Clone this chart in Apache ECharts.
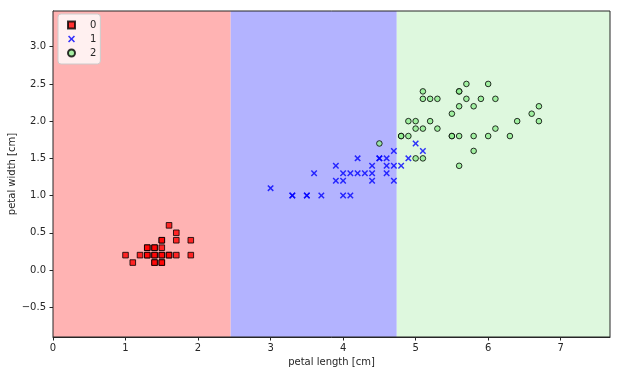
<!DOCTYPE html>
<html><head><meta charset="utf-8">
<script src="https://cdn.jsdelivr.net/npm/echarts@6/dist/echarts.min.js"></script>
<style>html,body{margin:0;padding:0;background:#fff}#c{width:621px;height:375px}</style>
</head><body><div id="c"></div>
<script>
// decision region boundaries (petal length) and their classes
const regionEdges = [0, 2.45, 4.74, 7.68];
const regionColors = ['#ffb3b3', '#b3b3ff', '#def8de'];
const xTicks = [0, 1, 2, 3, 4, 5, 6, 7];
const yTicks = [-0.5, 0, 0.5, 1, 1.5, 2, 2.5, 3];
const classNames = ['0', '1', '2'];

const class0 = [[1.6,0.6],[1.7,0.5],[1.7,0.4],[1.9,0.4],[1.5,0.4],[1.5,0.4],[1.3,0.3],[1.3,0.3],[1.4,0.3],[1.4,0.3],[1.5,0.3],[1.0,0.2],[1.2,0.2],[1.3,0.2],[1.3,0.2],[1.4,0.2],[1.4,0.2],[1.5,0.2],[1.5,0.2],[1.6,0.2],[1.6,0.2],[1.7,0.2],[1.9,0.2],[1.1,0.1],[1.4,0.1],[1.4,0.1],[1.5,0.1],[1.5,0.1]];
const class1 = [[3.0,1.1],[3.3,1.0],[3.3,1.0],[3.5,1.0],[3.5,1.0],[3.7,1.0],[4.0,1.0],[4.1,1.0],[3.6,1.3],[3.9,1.4],[3.9,1.2],[4.0,1.2],[4.0,1.3],[4.1,1.3],[4.2,1.3],[4.3,1.3],[4.4,1.3],[4.2,1.5],[4.4,1.4],[4.4,1.2],[4.5,1.5],[4.5,1.5],[4.6,1.5],[4.7,1.6],[4.6,1.4],[4.7,1.4],[4.8,1.4],[4.6,1.3],[4.7,1.2],[4.9,1.5],[5.0,1.7],[5.1,1.6]];
const class2 = [[4.5,1.7],[5.0,1.5],[5.1,1.5],[4.8,1.8],[4.8,1.8],[4.9,1.8],[4.9,2.0],[5.0,2.0],[5.2,2.0],[5.0,1.9],[5.1,1.9],[5.3,1.9],[5.1,2.4],[5.1,2.3],[5.2,2.3],[5.3,2.3],[5.6,2.4],[5.6,2.4],[5.7,2.5],[6.0,2.5],[5.7,2.3],[5.9,2.3],[6.1,2.3],[5.6,2.2],[5.8,2.2],[5.5,2.1],[6.7,2.2],[6.6,2.1],[6.7,2.0],[6.4,2.0],[6.1,1.9],[5.5,1.8],[5.5,1.8],[5.6,1.8],[5.8,1.8],[6.0,1.8],[6.3,1.8],[5.8,1.6],[5.6,1.4]];

const font = 'DejaVu Sans';
const txt = '#262626';
const xShape = 'path://M0,1.6L1.6,0L5,3.4L8.4,0L10,1.6L6.6,5L10,8.4L8.4,10L5,6.6L1.6,10L0,8.4L3.4,5Z';

const areas = [];
for (let i = 0; i < regionColors.length; i++) {
  areas.push([{xAxis: regionEdges[i], yAxis: -0.9, itemStyle: {color: regionColors[i], opacity: 1}}, {xAxis: regionEdges[i+1], yAxis: 3.48}]);
}

const chart = echarts.init(document.getElementById('c'), null, {renderer: 'canvas'});
chart.setOption({
  animation: false,
  backgroundColor: '#fff',
  grid: {left: 53, top: 11, width: 557, height: 326, containLabel: false, outerBoundsMode: 'none',
    show: true, borderColor: '#262626', borderWidth: 1, backgroundColor: 'transparent', z: 10},
  xAxis: {
    type: 'value', min: 0, max: 7.68,
    name: 'petal length [cm]', nameLocation: 'middle', nameGap: 20, nameMoveOverlap: false,
    nameTextStyle: {fontFamily: font, fontSize: 10, color: txt},
    axisLine: {show: true, onZero: false, lineStyle: {color: '#262626'}},
    axisTick: {show: true, length: 3.5, inside: false, customValues: xTicks, lineStyle: {color: '#262626'}},
    axisLabel: {fontFamily: font, fontSize: 10, color: txt, margin: 6, customValues: xTicks},
    splitLine: {show: false}
  },
  yAxis: {
    type: 'value', min: -0.9, max: 3.48,
    name: 'petal width [cm]', nameLocation: 'middle', nameGap: 36, nameRotate: 90, nameMoveOverlap: false,
    nameTextStyle: {fontFamily: font, fontSize: 10, color: txt},
    axisLine: {show: true, onZero: false, lineStyle: {color: '#262626'}},
    axisTick: {show: true, length: 3.5, inside: false, customValues: yTicks, lineStyle: {color: '#262626'}},
    axisLabel: {fontFamily: font, fontSize: 10, color: txt, margin: 7, customValues: yTicks,
      formatter: v => (Math.round(v * 10) / 10).toFixed(1).replace('-', '\u2212')},
    splitLine: {show: false}
  },
  legend: {
    data: classNames, orient: 'vertical', left: 58, top: 14,
    backgroundColor: 'rgba(255,255,255,0.8)', borderColor: '#cccccc', borderWidth: 1, borderRadius: 3,
    padding: [5, 4, 5, 9], itemGap: 2, itemWidth: 7, itemHeight: 7,
    textStyle: {fontFamily: font, fontSize: 10, lineHeight: 12, color: txt, padding: [0, 0, 0, 10]}
  },
  series: [
    {type: 'scatter', name: 'regions', data: [], z: 1, silent: true, markArea: {silent: true, data: areas}},
    {type: 'scatter', name: classNames[0], data: class0, symbol: 'rect', symbolSize: 5.6, z: 3,
      itemStyle: {color: '#ff0000', borderColor: '#000', borderWidth: 1, opacity: 0.8}},
    {type: 'scatter', name: classNames[1], data: class1, symbol: xShape, symbolSize: 6.5, z: 3,
      itemStyle: {color: '#0000ff', opacity: 0.8}},
    {type: 'scatter', name: classNames[2], data: class2, symbol: 'circle', symbolSize: 5.6, z: 3,
      itemStyle: {color: '#90ee90', borderColor: '#000', borderWidth: 1, opacity: 0.8}}
  ]
});
</script></body></html>
